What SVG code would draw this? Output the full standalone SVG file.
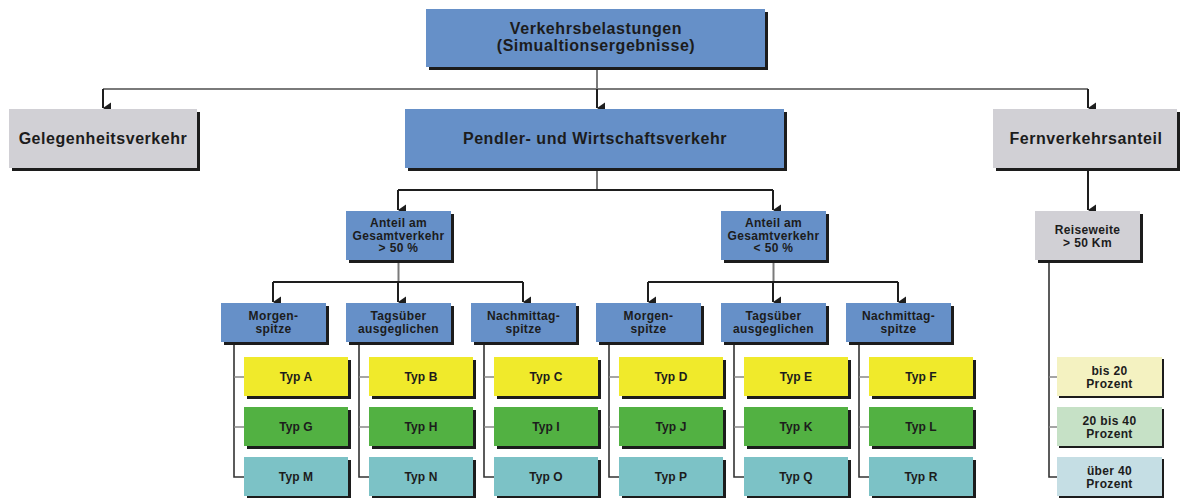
<svg xmlns="http://www.w3.org/2000/svg" width="1182" height="498" viewBox="0 0 1182 498">
<defs>
<marker id="arr" markerUnits="userSpaceOnUse" markerWidth="12" markerHeight="10" refX="6" refY="9" orient="auto-start-reverse" viewBox="0 0 12 10">
<path d="M0.5,1 L11.5,1 L6,9 Z" fill="#1e1e1e"/>
</marker>
</defs>
<style>
text{font-family:"Liberation Sans",Arial,Helvetica,sans-serif;font-weight:bold;fill:#1c1c1c;text-anchor:middle}
.big{font-size:16px;letter-spacing:0.55px}
.sm{font-size:12px;letter-spacing:0.35px}
.typ{font-size:12px;letter-spacing:0.1px}
.sh{fill:#1c1c1c}
.blue{fill:#6690c8}
.grey{fill:#d1d0d5}
.yel{fill:#f0ea2b}
.grn{fill:#52b142}
.teal{fill:#7cc2c6}
.lyel{fill:#f4f2c1}
.lgrn{fill:#c6e1c6}
.lblu{fill:#c5dee4}
.g{stroke:#7a7a7a;stroke-width:2;fill:none}
.d{stroke:#1e1e1e;stroke-width:2;fill:none}
.dt{stroke:#333;stroke-width:1.6;fill:none}
.gt{stroke:#888;stroke-width:1.6;fill:none}
</style>

<g id="connectors">
<path class="g" d="M597,69 V89 M103,89 H1088"/>
<path class="d" d="M103,89 V108" marker-end="url(#arr)"/>
<path class="d" d="M597,89 V108" marker-end="url(#arr)"/>
<path class="d" d="M1088,89 V108" marker-end="url(#arr)"/>
<path class="g" d="M597,170 V190"/>
<path class="d" d="M398,190 H773"/>
<path class="d" d="M398,190 V210" marker-end="url(#arr)"/>
<path class="d" d="M773,190 V210" marker-end="url(#arr)"/>
<path class="d" d="M1088,170 V210" marker-end="url(#arr)"/>
<path class="g" d="M398.5,262 V282"/>
<path class="d" d="M273,282 H523"/>
<path class="d" d="M273,282 V302" marker-end="url(#arr)"/>
<path class="d" d="M398,282 V302" marker-end="url(#arr)"/>
<path class="d" d="M523,282 V302" marker-end="url(#arr)"/>
<path class="g" d="M773.5,262 V282"/>
<path class="d" d="M648,282 H898"/>
<path class="d" d="M648,282 V302" marker-end="url(#arr)"/>
<path class="d" d="M773,282 V302" marker-end="url(#arr)"/>
<path class="d" d="M898,282 V302" marker-end="url(#arr)"/>
<path class="dt" d="M234,344 V477 H244 M359,344 V477 H369 M484,344 V477 H494 M609,344 V477 H619 M734,344 V477 H744 M859,344 V477 H869 M1049,262 V477 H1057"/>
<path class="gt" d="M234,377 H244 M234,427 H244 M359,377 H369 M359,427 H369 M484,377 H494 M484,427 H494 M609,377 H619 M609,427 H619 M734,377 H744 M734,427 H744 M859,377 H869 M859,427 H869 M1049,377 H1057 M1049,427 H1057"/>
</g>

<g id="n-top"><rect class="sh" x="429" y="12" width="339" height="58"/><rect class="blue" x="426" y="9" width="339" height="58"/><text class="big" x="596" y="34">Verkehrsbelastungen</text><text class="big" x="596" y="51">(Simualtionsergebnisse)</text></g>
<g id="n-gelegen"><rect class="sh" x="12" y="112" width="188" height="59"/><rect class="grey" x="9" y="109" width="188" height="59"/><text class="big" x="103" y="144">Gelegenheitsverkehr</text></g>
<g id="n-pendler"><rect class="sh" x="408" y="112" width="379" height="59"/><rect class="blue" x="405" y="109" width="379" height="59"/><text class="big" x="595" y="144">Pendler- und Wirtschaftsverkehr</text></g>
<g id="n-fern"><rect class="sh" x="996" y="112" width="184" height="59"/><rect class="grey" x="993" y="109" width="184" height="59"/><text class="big" x="1086" y="144">Fernverkehrsanteil</text></g>

<g id="n-anteil1"><rect class="sh" x="349" y="214" width="105" height="49"/><rect class="blue" x="346" y="211" width="105" height="49"/><text class="sm" x="398.5" y="227">Anteil am</text><text class="sm" x="398.5" y="239.5">Gesamtverkehr</text><text class="sm" x="398.5" y="252">&gt; 50 %</text></g>
<g id="n-anteil2"><rect class="sh" x="724" y="214" width="105" height="49"/><rect class="blue" x="721" y="211" width="105" height="49"/><text class="sm" x="773.5" y="227">Anteil am</text><text class="sm" x="773.5" y="239.5">Gesamtverkehr</text><text class="sm" x="773.5" y="252">&lt; 50 %</text></g>
<g id="n-reise"><rect class="sh" x="1038" y="214" width="105" height="49"/><rect class="grey" x="1035" y="211" width="105" height="49"/><text class="sm" x="1087.5" y="234">Reiseweite</text><text class="sm" x="1087.5" y="246.5">&gt; 50 Km</text></g>

<g id="n-morgen1"><rect class="sh" x="224" y="306" width="105" height="39"/><rect class="blue" x="221" y="303" width="105" height="39"/><text class="sm" x="273.5" y="320">Morgen-</text><text class="sm" x="273.5" y="332.5">spitze</text></g>
<g id="n-tags1"><rect class="sh" x="349" y="306" width="105" height="39"/><rect class="blue" x="346" y="303" width="105" height="39"/><text class="sm" x="398.5" y="320">Tagsüber</text><text class="sm" x="398.5" y="332.5">ausgeglichen</text></g>
<g id="n-nach1"><rect class="sh" x="474" y="306" width="105" height="39"/><rect class="blue" x="471" y="303" width="105" height="39"/><text class="sm" x="523.5" y="320">Nachmittag-</text><text class="sm" x="523.5" y="332.5">spitze</text></g>
<g id="n-morgen2"><rect class="sh" x="599" y="306" width="105" height="39"/><rect class="blue" x="596" y="303" width="105" height="39"/><text class="sm" x="648.5" y="320">Morgen-</text><text class="sm" x="648.5" y="332.5">spitze</text></g>
<g id="n-tags2"><rect class="sh" x="724" y="306" width="105" height="39"/><rect class="blue" x="721" y="303" width="105" height="39"/><text class="sm" x="773.5" y="320">Tagsüber</text><text class="sm" x="773.5" y="332.5">ausgeglichen</text></g>
<g id="n-nach2"><rect class="sh" x="849" y="306" width="105" height="39"/><rect class="blue" x="846" y="303" width="105" height="39"/><text class="sm" x="898.5" y="320">Nachmittag-</text><text class="sm" x="898.5" y="332.5">spitze</text></g>

<g id="n-typA"><rect class="sh" x="247" y="360" width="104" height="39"/><rect class="yel" x="244" y="357" width="104" height="39"/><text class="typ" x="296" y="381">Typ A</text></g>
<g id="n-typG"><rect class="sh" x="247" y="410" width="104" height="39"/><rect class="grn" x="244" y="407" width="104" height="39"/><text class="typ" x="296" y="431">Typ G</text></g>
<g id="n-typM"><rect class="sh" x="247" y="460" width="104" height="39"/><rect class="teal" x="244" y="457" width="104" height="39"/><text class="typ" x="296" y="481">Typ M</text></g>
<g id="n-typB"><rect class="sh" x="372" y="360" width="104" height="39"/><rect class="yel" x="369" y="357" width="104" height="39"/><text class="typ" x="421" y="381">Typ B</text></g>
<g id="n-typH"><rect class="sh" x="372" y="410" width="104" height="39"/><rect class="grn" x="369" y="407" width="104" height="39"/><text class="typ" x="421" y="431">Typ H</text></g>
<g id="n-typN"><rect class="sh" x="372" y="460" width="104" height="39"/><rect class="teal" x="369" y="457" width="104" height="39"/><text class="typ" x="421" y="481">Typ N</text></g>
<g id="n-typC"><rect class="sh" x="497" y="360" width="104" height="39"/><rect class="yel" x="494" y="357" width="104" height="39"/><text class="typ" x="546" y="381">Typ C</text></g>
<g id="n-typI"><rect class="sh" x="497" y="410" width="104" height="39"/><rect class="grn" x="494" y="407" width="104" height="39"/><text class="typ" x="546" y="431">Typ I</text></g>
<g id="n-typO"><rect class="sh" x="497" y="460" width="104" height="39"/><rect class="teal" x="494" y="457" width="104" height="39"/><text class="typ" x="546" y="481">Typ O</text></g>
<g id="n-typD"><rect class="sh" x="622" y="360" width="104" height="39"/><rect class="yel" x="619" y="357" width="104" height="39"/><text class="typ" x="671" y="381">Typ D</text></g>
<g id="n-typJ"><rect class="sh" x="622" y="410" width="104" height="39"/><rect class="grn" x="619" y="407" width="104" height="39"/><text class="typ" x="671" y="431">Typ J</text></g>
<g id="n-typP"><rect class="sh" x="622" y="460" width="104" height="39"/><rect class="teal" x="619" y="457" width="104" height="39"/><text class="typ" x="671" y="481">Typ P</text></g>
<g id="n-typE"><rect class="sh" x="747" y="360" width="104" height="39"/><rect class="yel" x="744" y="357" width="104" height="39"/><text class="typ" x="796" y="381">Typ E</text></g>
<g id="n-typK"><rect class="sh" x="747" y="410" width="104" height="39"/><rect class="grn" x="744" y="407" width="104" height="39"/><text class="typ" x="796" y="431">Typ K</text></g>
<g id="n-typQ"><rect class="sh" x="747" y="460" width="104" height="39"/><rect class="teal" x="744" y="457" width="104" height="39"/><text class="typ" x="796" y="481">Typ Q</text></g>
<g id="n-typF"><rect class="sh" x="872" y="360" width="104" height="39"/><rect class="yel" x="869" y="357" width="104" height="39"/><text class="typ" x="921" y="381">Typ F</text></g>
<g id="n-typL"><rect class="sh" x="872" y="410" width="104" height="39"/><rect class="grn" x="869" y="407" width="104" height="39"/><text class="typ" x="921" y="431">Typ L</text></g>
<g id="n-typR"><rect class="sh" x="872" y="460" width="104" height="39"/><rect class="teal" x="869" y="457" width="104" height="39"/><text class="typ" x="921" y="481">Typ R</text></g>

<g id="n-bis20"><rect class="sh" x="1059" y="359" width="105" height="39"/><rect class="lyel" x="1057" y="357" width="105" height="39"/><text class="sm" x="1109.5" y="375">bis 20</text><text class="sm" x="1109.5" y="387.5">Prozent</text></g>
<g id="n-20bis40"><rect class="sh" x="1059" y="409" width="105" height="39"/><rect class="lgrn" x="1057" y="407" width="105" height="39"/><text class="sm" x="1109.5" y="425">20 bis 40</text><text class="sm" x="1109.5" y="437.5">Prozent</text></g>
<g id="n-ueber40"><rect class="sh" x="1059" y="459" width="105" height="39"/><rect class="lblu" x="1057" y="457" width="105" height="39"/><text class="sm" x="1109.5" y="475">über 40</text><text class="sm" x="1109.5" y="487.5">Prozent</text></g>
</svg>
